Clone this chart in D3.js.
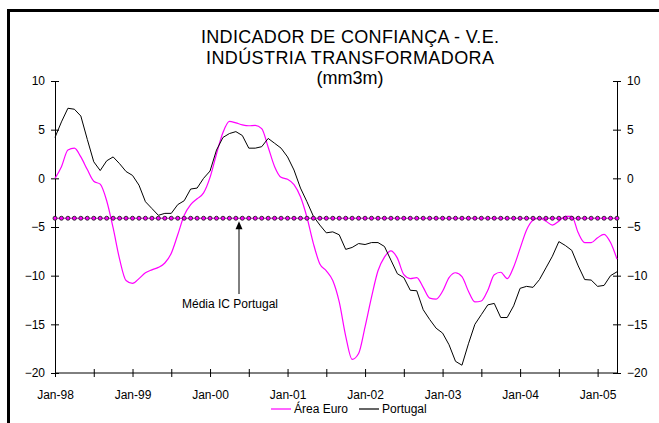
<!DOCTYPE html>
<html>
<head>
    <meta charset="utf-8">
    <title>Indicador de Confiança - Indústria Transformadora</title>
    <script src="https://d3js.org/d3.v7.min.js"></script>
    <style>
        body { margin: 0; background: #fff; }
        svg { display: block; font-family: "Liberation Sans", Arial, sans-serif; }
        .axis path, .axis line { stroke: #000; stroke-width: 1px; }
        .axis text { font-size: 12px; fill: #000; }
    </style>
</head>
<body>
    <div id="chart"></div>

    <script>
        // monthly values, Jan-98 .. Apr-05
        const areaEuro = [
            0.0, 1.2, 2.9, 3.1, 2.2, 0.9, -0.3, -0.6, -2.3, -5.1, -8.3, -10.5,
            -10.8, -10.3, -9.7, -9.4, -9.15, -8.7, -7.7, -5.8, -3.8, -2.7, -2.1, -1.5,
            0.1, 2.5, 4.7, 5.85, 5.7, 5.5, 5.4, 5.45, 5.1, 3.2, 1.2, 0.1,
            -0.1, -0.65, -1.9, -4.0, -6.7, -8.8, -9.5, -10.5, -12.7, -16.2, -18.6, -18.0,
            -15.25, -12.2, -9.5, -8.1, -7.45, -8.2, -9.9, -10.3, -10.2, -11.2, -12.3, -12.4,
            -11.6, -10.2, -9.7, -10.1, -11.6, -12.7, -12.6, -11.5, -9.9, -9.65, -10.3, -9.1,
            -7.2, -5.3, -4.3, -4.1, -4.4, -4.8, -4.4, -3.9, -3.9, -5.6, -6.6, -6.6,
            -6.1, -5.75, -6.6, -8.3
        ];
        const portugal = [
            4.2, 5.8, 7.2, 7.1, 6.4, 4.0, 1.7, 0.8, 1.8, 2.2, 1.5, 0.7,
            0.3, -0.7, -2.4, -3.1, -3.8, -3.6, -3.6, -2.7, -2.3, -1.1, -1.0, 0.0,
            0.75, 2.9, 4.2, 4.6, 4.8, 4.4, 3.1, 3.1, 3.25, 4.1, 3.6, 3.1,
            2.2, 0.85, -1.0, -2.4, -3.9, -4.8, -5.6, -5.5, -5.8, -7.3, -7.1, -6.7,
            -6.8, -6.6, -6.6, -7.0, -8.4, -9.8, -10.2, -11.5, -11.55, -13.5, -14.5, -15.4,
            -15.9, -17.1, -18.8, -19.2, -17.0, -15.0, -14.0, -13.0, -12.85, -14.3, -14.3, -13.1,
            -11.3, -11.1, -11.2, -10.4, -9.2, -8.0, -6.5, -6.9, -7.4, -9.0, -10.4, -10.45,
            -11.1, -11.0, -10.0, -9.6
        ];
        const mediaPortugal = -4.1;
        const yearLabels = ["Jan-98", "Jan-99", "Jan-00", "Jan-01", "Jan-02", "Jan-03", "Jan-04", "Jan-05"];
        const yTicks = [10, 5, 0, -5, -10, -15, -20];
        const titleLines = ["INDICADOR DE CONFIANÇA - V.E.", "INDÚSTRIA TRANSFORMADORA", "(mm3m)"];

        const width = 659, height = 423;
        const plotLeft = 55, plotRight = 617, plotTop = 81, plotBottom = 373;
        const n = portugal.length;

        const svg = d3.select("#chart").append("svg")
            .attr("width", width)
            .attr("height", height);

        svg.append("rect").attr("width", width).attr("height", height).attr("fill", "#fff");

        // outer frame (runs off the picture on the right and bottom)
        svg.append("rect")
            .attr("x", 8.5).attr("y", 10.5)
            .attr("width", 700).attr("height", 500)
            .attr("fill", "none").attr("stroke", "#000").attr("stroke-width", 3);

        const x = d3.scaleLinear().domain([0, n - 1]).range([plotLeft, plotRight]);
        const y = d3.scaleLinear().domain([-20, 10]).range([plotBottom, plotTop]);

        // title
        svg.append("g").selectAll("text")
            .data(titleLines)
            .enter().append("text")
            .attr("x", 350)
            .attr("y", (d, i) => 43 + i * 20.5)
            .attr("text-anchor", "middle")
            .attr("font-size", "18px")
            .attr("textLength", (d, i) => [298, 288, 0][i] || null)
            .text(d => d);

        // axes
        const yLeft = svg.append("g").attr("class", "axis")
            .attr("transform", `translate(${plotLeft},0)`)
            .call(d3.axisLeft(y).tickValues(yTicks).tickSize(4).tickSizeOuter(0).tickPadding(6));
        yLeft.selectAll(".tick line").attr("x1", 4);

        const yRight = svg.append("g").attr("class", "axis")
            .attr("transform", `translate(${plotRight},0)`)
            .call(d3.axisRight(y).tickValues(yTicks).tickSize(4).tickSizeOuter(0).tickPadding(6));
        yRight.selectAll(".tick line").attr("x1", -4);

        const halfYears = d3.range(0, n, 6);
        const xAxis = svg.append("g").attr("class", "axis")
            .attr("transform", `translate(0,${plotBottom})`)
            .call(d3.axisBottom(x).tickValues(halfYears).tickSize(4).tickSizeOuter(0).tickPadding(13)
                .tickFormat(d => d % 12 === 0 ? yearLabels[d / 12] : ""));
        xAxis.selectAll(".tick line").attr("y1", -4);
        xAxis.select(".domain").attr("d", `M${plotLeft},0H${plotRight}`);

        // series
        const smooth = d3.line()
            .x((d, i) => x(i))
            .y(d => y(d))
            .curve(d3.curveMonotoneX);
        const straight = d3.line()
            .x((d, i) => x(i))
            .y(d => y(d));

        svg.append("path")
            .datum(areaEuro)
            .attr("fill", "none")
            .attr("stroke", "#ff00ff")
            .attr("stroke-width", 1.2)
            .attr("d", smooth);

        svg.append("path")
            .datum(portugal)
            .attr("fill", "none")
            .attr("stroke", "#000")
            .attr("stroke-width", 1)
            .attr("d", straight);

        // average line with markers
        const media = d3.range(n).map(() => mediaPortugal);
        svg.append("path")
            .datum(media)
            .attr("fill", "none")
            .attr("stroke", "#cc00cc")
            .attr("stroke-width", 1.2)
            .attr("d", straight);

        svg.append("g").selectAll("circle")
            .data(media)
            .enter().append("circle")
            .attr("cx", (d, i) => x(i))
            .attr("cy", d => y(d))
            .attr("r", 2)
            .attr("fill", "#ff00ff")
            .attr("stroke", "#222")
            .attr("stroke-width", 0.9);

        // annotation
        const arrowX = 239;
        svg.append("line")
            .attr("x1", arrowX).attr("x2", arrowX)
            .attr("y1", 294).attr("y2", y(mediaPortugal) + 10)
            .attr("stroke", "#000").attr("stroke-width", 1);
        svg.append("path")
            .attr("d", `M${arrowX},${y(mediaPortugal) + 3}l-3.5,8h7z`)
            .attr("fill", "#000");
        svg.append("text")
            .attr("x", 230).attr("y", 308)
            .attr("text-anchor", "middle")
            .attr("font-size", "12px")
            .text("Média IC Portugal");

        // legend
        const legend = [
            {name: "Área Euro", color: "#ff00ff", x: 271},
            {name: "Portugal", color: "#000", x: 359}
        ];
        const lg = svg.append("g").selectAll("g")
            .data(legend)
            .enter().append("g")
            .attr("transform", d => `translate(${d.x},409)`);
        lg.append("line")
            .attr("x1", 0).attr("x2", 20)
            .attr("stroke", d => d.color).attr("stroke-width", 1.2);
        lg.append("text")
            .attr("x", 23).attr("y", 4)
            .attr("font-size", "12px")
            .text(d => d.name);
    </script>
</body>
</html>
